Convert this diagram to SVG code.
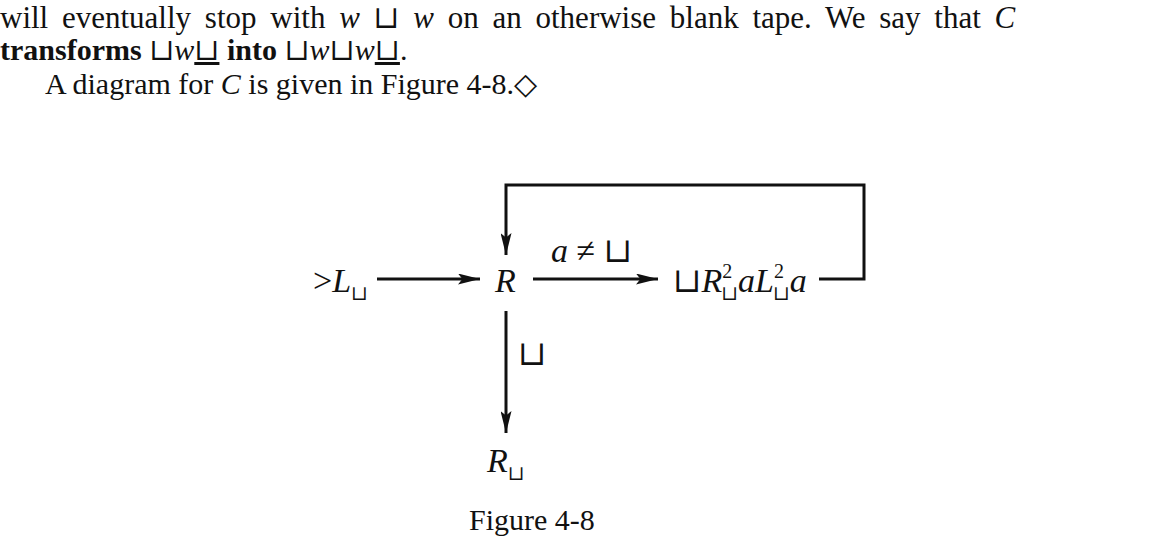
<svg xmlns="http://www.w3.org/2000/svg" width="1175" height="558" viewBox="0 0 1175 558">
<style>
text{font-family:"Liberation Serif","DejaVu Serif",serif;font-size:30px;fill:#111}
.d{font-size:34px}
.i{font-style:italic}
.s{font-size:20px;font-style:normal}
.b{font-weight:bold}
.u{text-decoration:underline}
.ln{stroke:#111;stroke-width:3;fill:none}
</style>
<defs><marker id="ah" viewBox="0 0 20 10" refX="20" refY="5" markerWidth="22" markerHeight="11" markerUnits="userSpaceOnUse" orient="auto"><path d="M0,0L20,5L0,10L4,5z" fill="#111"/></marker></defs>
<rect width="1175" height="558" fill="#fff"/>
<text x="0" y="28" style="font-size:31px;word-spacing:6px">will eventually stop with <tspan class="i">w</tspan> ⊔ <tspan class="i">w</tspan> on an otherwise blank tape.  We say that <tspan class="i">C</tspan></text>
<text x="0" y="60"><tspan class="b">transforms</tspan> ⊔<tspan class="i">w</tspan><tspan class="u">⊔</tspan> <tspan class="b">into</tspan> ⊔<tspan class="i">w</tspan>⊔<tspan class="i">w</tspan><tspan class="u">⊔</tspan>.</text>
<text x="45" y="94">A diagram for <tspan class="i">C</tspan> is given in Figure 4-8.◇</text>
<g id="nL"><text class="d" x="313" y="292">&gt;<tspan class="i">L</tspan><tspan class="s" dy="8">⊔</tspan></text></g>
<g id="nR"><text class="d i" x="495" y="292">R</text></g>
<g id="nC"><text class="d" x="673" y="292">⊔<tspan class="i">R</tspan><tspan class="s" dy="-14">2</tspan><tspan class="s" dx="-11" dy="22">⊔</tspan><tspan class="i" dy="-8">a</tspan><tspan class="i">L</tspan><tspan class="s" dy="-14">2</tspan><tspan class="s" dx="-11" dy="22">⊔</tspan><tspan class="i" dy="-8">a</tspan></text></g>
<g id="nRb"><text class="d i" x="487" y="472">R<tspan class="s" dy="8">⊔</tspan></text></g>
<g id="connectors">
<line class="ln" x1="377" y1="279" x2="480" y2="279" marker-end="url(#ah)"/>
<line class="ln" x1="533" y1="279" x2="658" y2="279" marker-end="url(#ah)"/>
<polyline class="ln" points="819,279 864,279 864,185 506,185 506,255" marker-end="url(#ah)"/>
<line class="ln" x1="506" y1="311" x2="506" y2="433" marker-end="url(#ah)"/>
<text class="d" x="551" y="262"><tspan class="i">a</tspan> ≠ ⊔</text>
<text class="d" x="518" y="365">⊔</text>
</g>
<text x="469" y="530">Figure 4-8</text>
</svg>
